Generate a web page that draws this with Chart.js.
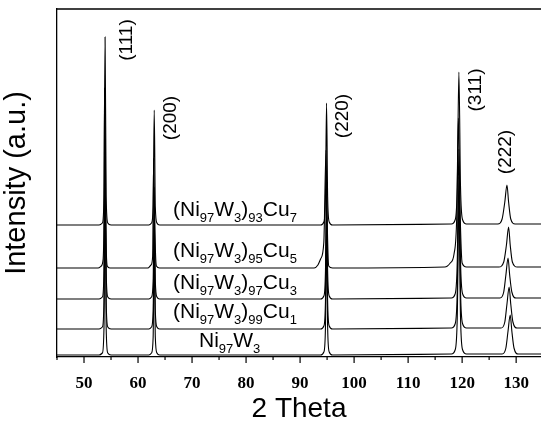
<!DOCTYPE html>
<html>
<head>
<meta charset="utf-8">
<script src="https://cdn.jsdelivr.net/npm/chart.js@4"></script>
<style>
  html, body { margin: 0; padding: 0; background: #fff; overflow: hidden; }
  #wrap { width: 541px; height: 429px; }
</style>
</head>
<body>
<div id="wrap"><canvas id="xrd"></canvas></div>
<script>
// ====== Data (2 Theta, intensity in a.u. with stacking offset) ======
const majorTicks = [50, 60, 70, 80, 90, 100, 110, 120, 130];
const minorTicks = [45, 55, 65, 75, 85, 95, 105, 115, 125];

const ni97w3 = [
  [45, 2], [52.8, 2], [53.4, 4], [53.7, 30], [53.9, 197], [54.1, 30], [54.4, 4], [55.0, 2],
  [62.0, 2], [62.5, 4], [62.8, 20], [63.0, 120], [63.2, 20], [63.5, 4], [64.0, 2],
  [93.8, 2], [94.4, 5], [94.7, 30], [94.9, 127], [95.1, 30], [95.4, 5], [96.0, 2],
  [118.0, 3], [118.7, 7], [119.1, 40], [119.4, 157], [119.7, 40], [120.1, 7], [120.8, 3],
  [127.4, 3], [128.1, 9], [128.5, 26], [128.9, 42], [129.2, 26], [129.6, 9], [130.4, 3],
  [134.6, 3]
];
const cu1 = [
  [45, 28], [52.8, 28], [53.4, 30], [53.7, 56], [53.9, 218], [54.1, 56], [54.4, 30], [55.0, 28],
  [62.0, 28], [62.5, 30], [62.8, 46], [63.0, 143], [63.2, 46], [63.5, 30], [64.0, 28],
  [93.8, 28], [94.4, 31], [94.7, 56], [94.9, 150], [95.1, 56], [95.4, 31], [96.0, 28],
  [118.0, 29], [118.7, 33], [119.1, 66], [119.4, 180], [119.7, 66], [120.1, 33], [120.8, 29],
  [127.2, 29], [127.9, 35], [128.3, 53], [128.7, 70], [129.0, 53], [129.4, 35], [130.2, 29],
  [134.6, 29]
];
const cu3 = [
  [45, 58], [52.8, 58], [53.4, 60], [53.7, 86], [53.9, 243], [54.1, 86], [54.4, 60], [55.0, 58],
  [62.0, 58], [62.5, 60], [62.8, 76], [63.0, 170], [63.2, 76], [63.5, 60], [64.0, 58],
  [93.8, 58], [94.4, 61], [94.7, 86], [94.9, 178], [95.1, 86], [95.4, 61], [96.0, 58],
  [118.0, 59], [118.7, 63], [119.1, 96], [119.4, 208], [119.7, 96], [120.1, 63], [120.8, 59],
  [127.0, 59], [127.7, 65], [128.1, 82], [128.5, 99], [128.8, 82], [129.2, 65], [130.0, 59],
  [134.6, 59]
];
const cu5 = [
  [45, 89], [52.6, 89], [53.2, 91], [53.5, 96], [53.7, 140], [53.8, 269], [54.0, 140], [54.3, 91], [54.8, 89],
  [61.8, 89], [62.4, 92], [62.7, 100], [62.9, 199], [63.1, 130], [63.4, 91], [64.0, 89],
  [92.6, 89], [93.3, 92], [93.8, 98], [94.4, 115], [94.8, 207], [95.0, 140], [95.3, 91], [96.0, 89],
  [116.8, 90], [117.8, 94], [118.5, 103], [119.0, 140], [119.3, 239], [119.6, 150], [120.0, 94], [120.8, 90],
  [126.8, 90], [127.7, 95], [128.2, 112], [128.6, 130], [128.9, 112], [129.3, 95], [130.2, 90],
  [134.6, 90]
];
const cu7 = [
  [45, 132], [52.8, 132], [53.4, 134], [53.7, 160], [53.9, 320], [54.1, 160], [54.4, 134], [55.0, 132],
  [62.0, 132], [62.5, 134], [62.8, 150], [63.0, 247], [63.2, 150], [63.5, 134], [64.0, 132],
  [93.8, 132], [94.4, 135], [94.7, 160], [94.9, 254], [95.1, 160], [95.4, 135], [96.0, 132],
  [118.0, 133], [118.7, 137], [119.1, 170], [119.4, 285], [119.7, 170], [120.1, 137], [120.8, 133],
  [126.6, 133], [127.4, 138], [127.9, 155], [128.3, 172], [128.6, 155], [129.0, 138], [129.8, 133],
  [134.6, 133]
];

// sample names, [text, isSubscript]
const sampleLabels = [
  [["(Ni", 0], ["97", 1], ["W", 0], ["3", 1], [")", 0], ["93", 1], ["Cu", 0], ["7", 1]],
  [["(Ni", 0], ["97", 1], ["W", 0], ["3", 1], [")", 0], ["95", 1], ["Cu", 0], ["5", 1]],
  [["(Ni", 0], ["97", 1], ["W", 0], ["3", 1], [")", 0], ["97", 1], ["Cu", 0], ["3", 1]],
  [["(Ni", 0], ["97", 1], ["W", 0], ["3", 1], [")", 0], ["99", 1], ["Cu", 0], ["1", 1]],
  [["Ni", 0], ["97", 1], ["W", 0], ["3", 1]]
];
const peakLabels = ["(111)", "(200)", "(220)", "(311)", "(222)"];

// ====== Drawing helpers ======
const sampleLabelPos = [[173, 216], [173, 257], [173, 289], [173, 318], [199, 347]];
const peakLabelPos = [[127, 40], [171, 118], [343, 116], [476, 90], [506, 152]];

const annotations = {
  id: "annotations",
  afterDraw(chart) {
    const ctx = chart.ctx;
    const a = chart.chartArea;
    const xs = chart.scales.x;
    ctx.save();
    ctx.strokeStyle = "#000";
    ctx.lineWidth = 1.3;
    // top frame line
    ctx.beginPath();
    ctx.moveTo(a.left, a.top);
    ctx.lineTo(a.right, a.top);
    ctx.stroke();
    // tick marks, outward
    ctx.lineWidth = 1.2;
    majorTicks.forEach(v => {
      const px = xs.getPixelForValue(v);
      ctx.beginPath(); ctx.moveTo(px, a.bottom); ctx.lineTo(px, a.bottom + 6); ctx.stroke();
    });
    minorTicks.forEach(v => {
      const px = xs.getPixelForValue(v);
      ctx.beginPath(); ctx.moveTo(px, a.bottom); ctx.lineTo(px, a.bottom + 3); ctx.stroke();
    });
    // sample names with subscripts
    ctx.fillStyle = "#000";
    ctx.textBaseline = "alphabetic";
    ctx.textAlign = "left";
    sampleLabels.forEach((parts, i) => {
      let [x, y] = sampleLabelPos[i];
      parts.forEach(([t, sub]) => {
        ctx.font = sub ? "13px 'Liberation Sans', Arial" : "21px 'Liberation Sans', Arial";
        ctx.fillText(t, x, sub ? y + 6 : y);
        x += ctx.measureText(t).width;
      });
    });
    // peak indices, rotated
    ctx.font = "19px 'Liberation Sans', Arial";
    ctx.textAlign = "center";
    ctx.textBaseline = "middle";
    peakLabels.forEach((t, i) => {
      const [x, y] = peakLabelPos[i];
      ctx.save();
      ctx.translate(x, y);
      ctx.rotate(-Math.PI / 2);
      ctx.fillText(t, 0, 0);
      ctx.restore();
    });
    ctx.restore();
  }
};

const traces = [ni97w3, cu1, cu3, cu5, cu7];

new Chart(document.getElementById("xrd"), {
  type: "line",
  data: {
    datasets: traces.map(tr => ({
      data: tr.map(p => ({ x: p[0], y: p[1] })),
      borderColor: "#000",
      borderWidth: 1.1,
      pointRadius: 0,
      fill: false,
      cubicInterpolationMode: "monotone"
    }))
  },
  options: {
    responsive: true,
    maintainAspectRatio: false,
    animation: false,
    layout: { padding: { top: 9, right: 0, left: 0, bottom: 0 } },
    plugins: { legend: { display: false }, tooltip: { enabled: false } },
    scales: {
      x: {
        type: "linear",
        min: 45,
        max: 134.6,
        afterBuildTicks: s => { s.ticks = majorTicks.map(v => ({ value: v })); },
        afterFit: s => { s.height = 72; s.paddingLeft = 0; s.paddingRight = 0; },
        grid: { display: false, drawTicks: false },
        border: { display: true, color: "#000", width: 1.3 },
        ticks: {
          autoSkip: false,
          maxRotation: 0,
          padding: 16,
          color: "#000",
          font: { family: "'Liberation Serif', 'Times New Roman'", size: 17, weight: "bold" }
        },
        title: {
          display: true,
          text: "2 Theta",
          color: "#000",
          padding: { top: 0, bottom: 3 },
          font: { family: "'Liberation Sans', Arial", size: 28 }
        }
      },
      y: {
        min: 0,
        max: 348,
        afterFit: s => { s.width = 57; },
        grid: { display: false, drawTicks: false },
        border: { display: true, color: "#000", width: 1.3 },
        ticks: { display: false },
        title: {
          display: true,
          text: "Intensity (a.u.)",
          color: "#000",
          padding: { top: 0, bottom: 0 },
          font: { family: "'Liberation Sans', Arial", size: 29 }
        }
      }
    }
  },
  plugins: [annotations]
});
</script>
</body>
</html>
